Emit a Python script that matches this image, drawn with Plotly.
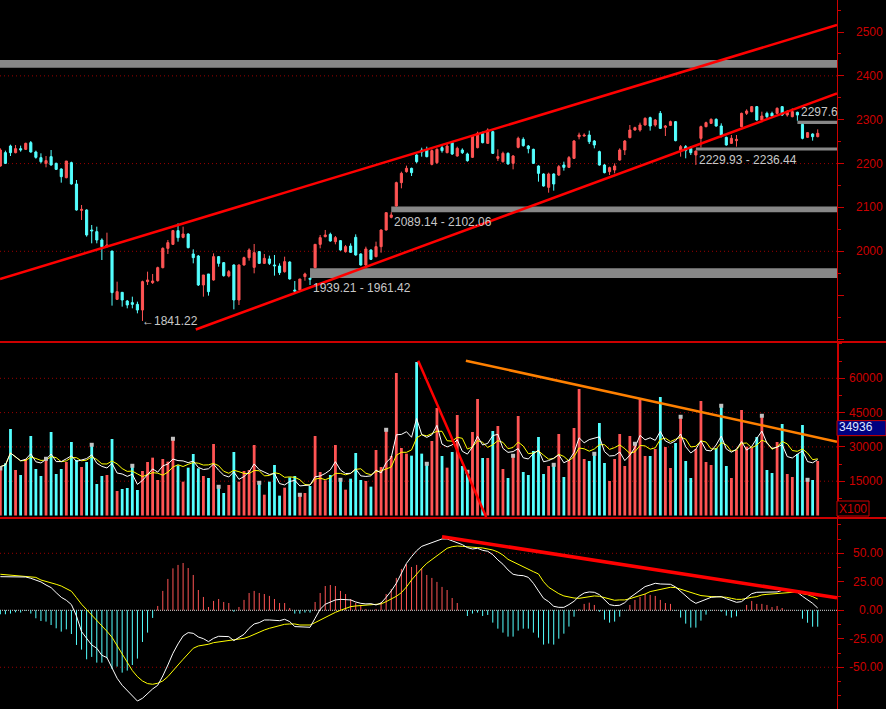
import plotly.graph_objects as go
import pandas as pd

# ---------------- data ----------------
opens = [2194.5, 2224.9, 2240.1, 2224.9, 2234.0, 2232.5, 2247.7, 2226.4, 2213.5, 2200.6,
         2215.8, 2200.6, 2187.7, 2167.9, 2202.1, 2153.5, 2093.4, 2094.2, 2048.6, 2044.8,
         2025.8, 2010.6, 2000.7, 1890.5, 1906.5, 1886.7, 1882.9, 1879.1, 1866.2, 1930.8,
         1928.5, 1933.1, 1962.7, 2006.8, 2015.9, 2047.1, 2031.9, 2039.5, 1993.9, 1989.3,
         1923.2, 1948.3, 1934.6, 1987.8, 1974.1, 1943.7, 1968.8, 1889.0, 1968.8, 1985.5,
         1963.5, 1999.2, 1972.6, 1982.5, 1968.8, 1966.5, 1953.6, 1975.6, 1911.8, 1911.8,
         1942.2, 1938.5, 1962.7, 2015.9, 2033.4, 2038.7, 2022.0, 2024.3, 1999.2, 2012.1,
         2031.9, 1993.9, 1968.8, 2003.0, 1987.8, 2010.6, 2048.6, 2077.5, 2103.3, 2156.5,
         2181.6, 2189.2, 2219.6, 2231.0, 2231.0, 2198.3, 2202.1, 2236.3, 2224.9, 2247.7,
         2217.3, 2231.0, 2221.9, 2214.3, 2236.3, 2269.0, 2246.2, 2272.8, 2212.0, 2204.4,
         2223.4, 2200.6, 2237.1, 2255.3, 2240.1, 2232.5, 2194.5, 2176.3, 2145.9, 2176.3,
         2174.0, 2196.8, 2191.5, 2212.0, 2261.4, 2262.9, 2265.2, 2251.5, 2227.2, 2196.8,
         2181.6, 2185.4, 2208.2, 2231.0, 2259.1, 2276.6, 2276.6, 2288.0, 2304.7, 2288.0,
         2314.6, 2282.7, 2287.2, 2295.6, 2231.0, 2238.6, 2234.8, 2219.6, 2257.6, 2284.2,
         2291.8, 2300.9, 2285.7, 2259.9, 2246.2, 2252.3, 2284.2, 2314.6, 2318.4, 2329.8,
         2299.4, 2314.6, 2314.6, 2314.6, 2329.8, 2310.8, 2307.0, 2316.9, 2289.5, 2259.9,
         2267.5, 2261.4]

highs = [2234.8, 2229.5, 2243.2, 2242.4, 2240.9, 2247.7, 2251.5, 2229.5, 2223.4, 2217.3,
         2231.0, 2202.1, 2189.2, 2205.9, 2204.4, 2162.6, 2105.6, 2095.7, 2060.0, 2056.2,
         2029.6, 2042.5, 2000.7, 1930.8, 1906.5, 1889.0, 1896.6, 1885.2, 1933.1, 1953.6,
         1948.3, 1965.0, 2009.1, 2025.8, 2048.6, 2063.8, 2056.2, 2041.0, 2004.5, 1991.6,
         1946.0, 1948.3, 1995.4, 1989.3, 1975.6, 1957.4, 1970.3, 1970.3, 1987.8, 2006.8,
         2016.7, 2000.7, 1993.9, 1990.1, 1991.6, 1972.6, 1987.8, 1977.2, 1932.3, 1936.9,
         1951.3, 1939.21, 2015.9, 2037.2, 2048.6, 2042.5, 2034.9, 2025.0, 2014.4, 2018.2,
         2038.7, 1995.4, 2010.6, 2004.5, 2022.0, 2050.0, 2088.1, 2089.14, 2158.8, 2181.6,
         2195.3, 2190.7, 2221.1, 2236.3, 2238.6, 2232.5, 2234.8, 2242.4, 2246.2, 2250.8,
         2238.6, 2234.8, 2224.9, 2265.2, 2272.8, 2272.8, 2280.4, 2275.1, 2232.5, 2227.2,
         2225.7, 2219.6, 2261.4, 2259.9, 2242.4, 2234.0, 2196.0, 2177.8, 2179.3, 2177.8,
         2196.8, 2204.4, 2217.3, 2253.8, 2270.5, 2269.0, 2275.1, 2253.8, 2229.5, 2199.1,
         2193.0, 2200.6, 2234.8, 2253.8, 2288.0, 2284.2, 2293.3, 2305.5, 2307.0, 2301.7,
         2319.9, 2288.0, 2297.9, 2297.1, 2242.4, 2242.4, 2240.1, 2229.93, 2286.5, 2295.6,
         2303.2, 2303.2, 2291.8, 2261.4, 2265.2, 2265.2, 2316.1, 2323.7, 2331.3, 2331.3,
         2318.4, 2318.4, 2318.4, 2328.3, 2331.3, 2322.2, 2326.0, 2318.4, 2290.2, 2272.0,
         2269.0, 2278.1]

lows = [2193.0, 2199.0, 2217.3, 2223.4, 2227.2, 2231.0, 2224.9, 2211.2, 2200.6, 2191.5,
        2195.3, 2185.4, 2156.5, 2166.4, 2152.0, 2092.7, 2071.4, 2033.4, 2018.2, 2018.2,
        1980.2, 2009.1, 1876.1, 1889.0, 1873.8, 1870.0, 1870.0, 1858.6, 1841.22, 1923.2,
        1925.5, 1930.8, 1961.2, 1993.9, 2014.4, 2022.0, 2029.6, 2006.8, 1972.6, 1920.9,
        1896.6, 1898.9, 1933.1, 1965.0, 1942.2, 1940.7, 1867.7, 1877.6, 1967.3, 1978.7,
        1949.8, 1971.1, 1971.1, 1968.8, 1944.5, 1946.0, 1951.3, 1935.4, 1907.0, 1910.3,
        1933.0, 1923.2, 1961.42, 2006.8, 2031.9, 2022.0, 2015.9, 2001.5, 1996.9, 1996.9,
        1990.1, 1967.3, 1965.0, 1980.2, 1986.3, 1996.9, 2047.1, 2075.2, 2102.06, 2143.6,
        2179.3, 2171.7, 2200.6, 2215.8, 2214.3, 2196.0, 2199.1, 2224.9, 2223.4, 2219.6,
        2215.8, 2221.9, 2204.4, 2212.8, 2234.8, 2246.2, 2244.7, 2221.9, 2206.0, 2202.1,
        2197.6, 2186.9, 2234.8, 2238.6, 2223.4, 2199.1, 2158.8, 2147.4, 2133.7, 2138.3,
        2171.7, 2183.9, 2190.0, 2210.5, 2255.3, 2261.4, 2244.7, 2234.8, 2195.3, 2177.8,
        2174.0, 2177.8, 2206.7, 2219.6, 2257.6, 2275.1, 2272.8, 2286.5, 2275.1, 2284.2,
        2278.9, 2262.9, 2285.7, 2250.8, 2215.8, 2212.0, 2219.6, 2197.0, 2236.44, 2282.7,
        2290.3, 2284.2, 2259.9, 2240.9, 2244.7, 2238.6, 2282.7, 2310.8, 2316.9, 2297.9,
        2295.6, 2303.2, 2305.5, 2313.1, 2308.5, 2307.0, 2305.5, 2297.68, 2255.3, 2258.4,
        2252.3, 2259.9]

closes = [2231.0, 2200.6, 2224.9, 2234.0, 2231.0, 2246.2, 2226.4, 2214.3, 2204.4, 2206.7,
          2196.8, 2186.9, 2170.2, 2205.9, 2153.5, 2094.2, 2095.7, 2037.2, 2046.3, 2025.8,
          2010.6, 2014.4, 1905.8, 1908.0, 1889.0, 1877.6, 1879.1, 1866.2, 1930.8, 1934.6,
          1932.3, 1962.7, 2006.8, 2019.7, 2047.1, 2031.1, 2039.5, 2008.3, 1985.5, 1923.2,
          1946.0, 1908.0, 1987.8, 1972.6, 1944.5, 1953.6, 1889.0, 1968.8, 1985.5, 2003.0,
          1996.9, 1972.6, 1984.0, 1972.6, 1966.5, 1951.3, 1976.4, 1936.9, 1909.0, 1936.9,
          1948.3, 1936.1, 2015.9, 2031.1, 2037.2, 2023.5, 2031.1, 2003.0, 2010.6, 1997.7,
          1991.6, 1968.8, 2005.3, 1981.7, 2010.6, 2048.6, 2088.1, 2082.8, 2156.5, 2177.8,
          2189.2, 2179.3, 2204.4, 2226.4, 2215.8, 2229.5, 2232.5, 2229.5, 2240.1, 2221.9,
          2234.8, 2224.9, 2206.7, 2262.9, 2269.0, 2247.7, 2276.6, 2223.4, 2215.8, 2223.4,
          2199.1, 2217.3, 2257.6, 2240.9, 2234.0, 2200.6, 2177.8, 2148.9, 2176.3, 2153.5,
          2193.0, 2191.5, 2213.5, 2251.5, 2265.2, 2265.2, 2250.0, 2242.4, 2196.8, 2179.3,
          2190.7, 2194.5, 2231.0, 2251.5, 2276.6, 2281.9, 2288.0, 2303.2, 2285.7, 2299.4,
          2280.4, 2285.7, 2295.6, 2252.3, 2238.6, 2229.5, 2224.9, 2228.5, 2284.2, 2293.3,
          2300.9, 2285.7, 2265.2, 2242.4, 2257.6, 2255.3, 2314.6, 2319.9, 2329.8, 2299.4,
          2308.5, 2307.0, 2308.5, 2326.0, 2310.8, 2318.4, 2318.4, 2310.8, 2257.6, 2270.5,
          2261.4, 2269.0]

volumes = [21360, 22820, 37840, 19900, 17710, 24710, 34770, 20340, 17280, 25590,
           36520, 18150, 20340, 23400, 32150, 24280, 21210, 23400, 31710, 13780,
           17280, 17710, 33460, 10720, 11590, 12030, 22530, 11150, 19460, 23400,
           25300, 15530, 24710, 23550, 34340, 21940, 14800, 20920, 26900, 20630,
           17280, 16400, 31270, 13340, 9840, 13340, 27770, 14800, 19460, 19900,
           30840, 15090, 9110, 14800, 22090, 8680, 12170, 16690, 17280, 9840,
           9840, 12900, 34770, 19030, 15380, 17710, 30840, 16400, 11300, 16110,
           27340, 15530, 15090, 12610, 28650, 21210, 38270, 26030, 62330, 29520,
           27050, 26170, 67140, 27050, 23400, 32590, 47020, 26030, 20920, 27770,
           43960, 21650, 19900, 36520, 50960, 25150, 25150, 36960, 39150, 20340,
           16400, 26900, 43520, 19030, 17710, 28210, 34340, 18150, 21650, 22960,
           35650, 16840, 23840, 38270, 55330, 24710, 23840, 27770, 40460, 22960,
           15090, 24710, 35650, 21650, 34770, 32150, 50960, 26030, 26030, 29090,
           51830, 29960, 20780, 31710, 43960, 23840, 16400, 29090, 50080, 23400,
           22090, 29520, 48770, 21650, 16400, 28650, 46150, 30110, 29520, 34340,
           44400, 19900, 18590, 32150, 40020, 18150, 16840, 26900, 39590, 16400,
           15530, 23840]

day_start_idx = [0, 9, 18, 26, 34, 43, 51, 59, 67, 76, 84, 92, 101, 109, 117, 125,
                 134, 142, 150, 159]

dif = [29.5, 29.5, 29.5, 29.5, 29.5, 29.2, 28.1, 26.6, 24.9, 22.2,
       19.9, 15.5, 11.4, 8.8, 5.0, -5.0, -18.7, -24.6, -30.4, -33.3,
       -39.5, -41.5, -50.0, -59.6, -65.8, -70.2, -74.9, -79.6, -77.2, -72.8,
       -69.0, -65.8, -57.6, -48.0, -37.7, -29.5, -22.5, -19.6, -20.2, -23.4,
       -24.9, -27.5, -24.6, -22.8, -23.1, -23.1, -26.6, -23.7, -21.1, -15.8,
       -12.0, -10.8, -8.5, -8.5, -8.5, -9.1, -7.9, -9.9, -14.3, -14.3,
       -14.3, -14.9, -7.0, 0.9, 5.3, 7.0, 9.1, 9.6, 9.6, 9.1,
       7.3, 6.1, 5.6, 5.8, 4.7, 6.4, 11.4, 17.0, 23.7, 31.9,
       41.2, 47.1, 52.3, 56.1, 57.9, 59.1, 60.8, 62.6, 62.6, 61.1,
       59.4, 57.6, 55.0, 53.8, 54.4, 52.6, 51.8, 48.8, 44.2, 40.4,
       35.4, 31.6, 30.7, 30.4, 28.9, 23.7, 17.0, 10.5, 7.6, 3.5,
       2.6, 2.6, 5.0, 7.9, 12.3, 15.2, 16.1, 15.8, 13.7, 9.4,
       5.0, 4.1, 4.4, 6.7, 11.1, 14.3, 17.3, 20.8, 22.2, 23.7,
       23.1, 23.1, 22.8, 20.5, 16.4, 12.3, 8.8, 6.1, 7.6, 9.6,
       11.4, 12.0, 12.0, 10.2, 8.5, 7.0, 7.6, 11.4, 14.6, 15.8,
       15.8, 15.8, 15.8, 16.1, 17.5, 17.8, 17.0, 15.8, 12.3, 9.1,
       6.1, 2.0]

dea = [31.6, 31.3, 30.7, 30.1, 29.8, 29.5, 29.5, 28.9, 26.6, 25.4,
       24.6, 22.8, 21.3, 18.7, 16.7, 11.1, 5.3, 0.6, -4.1, -8.5,
       -13.2, -18.4, -23.7, -30.7, -38.3, -45.9, -52.9, -58.2, -62.0, -64.3,
       -64.9, -64.0, -62.0, -58.2, -52.6, -48.0, -43.0, -38.3, -33.3, -31.3,
       -30.7, -29.8, -28.4, -27.8, -27.2, -26.6, -26.0, -25.4, -24.6, -23.1,
       -21.1, -19.0, -17.3, -15.8, -14.6, -13.7, -12.3, -12.0, -12.0, -12.9,
       -13.2, -12.9, -10.8, -8.5, -6.1, -3.8, -1.8, 0.0, 1.5, 3.2,
       3.8, 4.1, 4.7, 5.0, 5.3, 5.6, 7.6, 9.9, 12.3, 15.5,
       20.5, 26.6, 31.9, 36.8, 41.2, 44.7, 48.2, 51.5, 54.4, 55.8,
       56.4, 56.1, 55.6, 55.0, 55.0, 54.7, 54.1, 52.9, 51.2, 48.5,
       44.7, 42.4, 40.6, 38.3, 36.0, 33.9, 31.9, 25.1, 20.2, 17.0,
       14.6, 12.6, 11.4, 10.8, 10.5, 11.1, 11.7, 12.6, 12.3, 11.1,
       9.6, 8.8, 9.1, 9.1, 10.2, 11.4, 12.6, 14.3, 16.4, 17.3,
       18.4, 19.3, 20.2, 19.9, 18.4, 16.7, 15.2, 14.3, 12.9, 12.3,
       12.0, 12.0, 12.0, 11.4, 10.5, 9.6, 9.6, 10.8, 11.4, 12.0,
       13.5, 14.0, 14.3, 14.6, 14.9, 15.5, 15.8, 16.1, 14.6, 13.7,
       12.0, 9.9]

macd_hist = [-3.5, -3.5, -2.9, -1.8, -2.0, -0.5, -2.9, -7.0, -9.4, -9.9,
             -12.9, -15.8, -18.7, -16.7, -20.8, -30.4, -34.5, -43.0, -40.9, -45.9,
             -45.9, -42.1, -51.5, -49.4, -54.7, -52.9, -48.0, -42.4, -27.8, -19.6,
             -6.7, 3.8, 17.0, 27.5, 36.8, 39.8, 41.5, 37.1, 31.0, 17.8,
             11.7, 2.9, 8.2, 9.9, 7.3, 6.4, -1.2, 2.9, 9.1, 15.2,
             17.0, 15.2, 14.3, 12.6, 9.9, 6.4, 6.4, 2.0, -2.9, -2.9,
             -2.0, -2.0, 7.3, 15.2, 21.3, 22.2, 21.3, 17.0, 14.3, 9.9,
             6.4, 4.7, 1.2, 0.3, 1.2, 7.3, 14.3, 18.7, 28.4, 36.3,
             40.4, 38.0, 39.8, 37.1, 31.0, 28.4, 24.9, 20.5, 17.8, 10.8,
             6.4, 0.3, -5.0, -2.9, -2.0, -5.0, -4.1, -10.8, -16.1, -19.6,
             -23.1, -23.1, -17.8, -16.1, -16.1, -19.6, -24.0, -30.1, -29.2, -30.1,
             -24.9, -20.5, -14.3, -5.6, 0.9, 5.6, 6.7, 4.7, -1.2, -8.2,
             -10.8, -9.9, -5.6, -0.3, 4.7, 9.1, 11.7, 14.3, 13.5, 12.6,
             9.1, 6.4, 5.6, -0.3, -6.4, -11.7, -15.2, -15.2, -9.1, -3.8,
             -0.3, 0.3, -1.2, -4.7, -6.4, -5.3, -0.3, 4.7, 8.2, 5.6,
             5.6, 4.7, 2.9, 3.8, 2.0, 0.3, 0.2, -0.2, -7.4, -10.9,
             -14.4, -14.4]

# price gaps (bands): start bar, low, high, label
gap_start = [-0.065, 61, 77, 137, 157]
gap_low = [2418.6, 1939.21, 2089.14, 2229.93, 2290.2]
gap_high = [2436.2, 1961.42, 2102.06, 2236.44, 2297.68]
gap_label = ["", "1939.21 - 1961.42", "2089.14 - 2102.06", "2229.93 - 2236.44", "2297.6"]
gap_label_above = [False, False, False, False, True]

low_mark_idx = 28
low_mark_text = "\u21901841.22"

# trend lines (endpoints in bar index / value)
chan_up_x, chan_up_y = [-0.065, 164.8], [1936.8, 2516.0]
chan_lo_x, chan_lo_y = [38.5, 164.8], [1821.7, 2360.0]
vol_red_x, vol_red_y = [82.3, 95.7], [67700, -700]
vol_org_x, vol_org_y = [91.7, 164.8], [67700, 32270]
macd_line_x, macd_line_y = [87, 164.8], [64.6, 11.05]

price_ticks = [2000, 2100, 2200, 2300, 2400, 2500]
price_grid = [2000, 2200, 2400]
vol_ticks = [15000, 30000, 45000, 60000]
vol_tick_text = ["15000", "30000", "45000", "60000"]
macd_ticks = [50, 25, 0, -25, -50]
macd_tick_text = ["50.00", "25.00", "0.00", "-25.00", "-50.00"]
macd_grid = [50, -50]
vol_last_label = 34936
vol_unit_text = "X100"

# ---------------- layout constants ----------------
W, H = 886, 709
AX_X = 837 / W
X_RANGE = [-0.065, 164.8]
PRICE_RANGE = [1795.5, 2573.0]
VOL_RANGE = [-656, 75872]
MACD_RANGE = [-86.6, 80.1]
PRICE_DOM = [1 - 341 / H, 1.0]
VOL_DOM = [1 - 517 / H, 1 - 342 / H]
MACD_DOM = [0.0, 1 - 519 / H]
VOL_PER_PX = (VOL_RANGE[1] - VOL_RANGE[0]) / ((VOL_DOM[1] - VOL_DOM[0]) * H)

RED = "#ff5454"
CYAN = "#54ffff"
AXRED = "#cc0000"
GRIDRED = "#9a0000"
FONT = "Liberation Sans"

n = len(closes)
for name, arr in [("opens", opens), ("highs", highs), ("lows", lows), ("volumes", volumes),
                  ("dif", dif), ("dea", dea), ("macd_hist", macd_hist)]:
    if len(arr) != n:
        raise ValueError(f"{name} has {len(arr)} items, expected {n}")

idx = list(range(n))
is_up = [c >= o for o, c in zip(opens, closes)]
bar_colors = [RED if u else CYAN for u in is_up]

fig = go.Figure()

# ---- candles: wicks ----
for want_up, col in [(True, RED), (False, CYAN)]:
    xs, ys = [], []
    for i in idx:
        if is_up[i] == want_up:
            xs += [i, i, None]
            ys += [lows[i], highs[i], None]
    fig.add_trace(go.Scatter(x=xs, y=ys, mode="lines", line=dict(color=col, width=1),
                             xaxis="x", yaxis="y", hoverinfo="skip"))

# ---- candles: bodies ----
fig.add_trace(go.Bar(x=idx, y=[abs(c - o) for o, c in zip(opens, closes)],
                     base=[min(o, c) for o, c in zip(opens, closes)],
                     width=0.42, marker=dict(color=bar_colors, line=dict(color=bar_colors, width=1)),
                     xaxis="x", yaxis="y", hoverinfo="skip"))

# ---- channel lines ----
for xs, ys in [(chan_up_x, chan_up_y), (chan_lo_x, chan_lo_y)]:
    fig.add_trace(go.Scatter(x=xs, y=ys, mode="lines", line=dict(color="#ff0000", width=2.5),
                             xaxis="x", yaxis="y", hoverinfo="skip"))

# ---- volume ----
fig.add_trace(go.Bar(x=idx, y=volumes, width=0.55, marker=dict(color=bar_colors, line=dict(width=0)),
                     xaxis="x2", yaxis="y2", hoverinfo="skip"))
vs = pd.Series(volumes, dtype=float)
ma5 = vs.rolling(5, min_periods=1).mean().tolist()
ma10 = vs.rolling(10, min_periods=1).mean().tolist()
fig.add_trace(go.Scatter(x=idx, y=ma10, mode="lines", line=dict(color="#ffff00", width=1),
                         xaxis="x2", yaxis="y2", hoverinfo="skip"))
fig.add_trace(go.Scatter(x=idx, y=ma5, mode="lines", line=dict(color="#ffffff", width=1),
                         xaxis="x2", yaxis="y2", hoverinfo="skip"))
fig.add_trace(go.Scatter(x=day_start_idx, y=[volumes[i] - 1.8 * VOL_PER_PX for i in day_start_idx],
                         mode="markers", marker=dict(symbol="square", size=4, color="#c0c0c0",
                                                     line=dict(width=0)),
                         xaxis="x2", yaxis="y2", hoverinfo="skip"))
fig.add_trace(go.Scatter(x=vol_red_x, y=vol_red_y, mode="lines", line=dict(color="#ff0000", width=2.5),
                         xaxis="x2", yaxis="y2", hoverinfo="skip"))
fig.add_trace(go.Scatter(x=vol_org_x, y=vol_org_y, mode="lines", line=dict(color="#ff8000", width=2.5),
                         xaxis="x2", yaxis="y2", hoverinfo="skip"))

# ---- MACD ----
for positive, col in [(True, RED), (False, CYAN)]:
    xs, ys = [], []
    for i in idx:
        v = macd_hist[i]
        if (v >= 0) == positive:
            xs += [i, i, None]
            ys += [0, v, None]
    fig.add_trace(go.Scatter(x=xs, y=ys, mode="lines", line=dict(color=col, width=1),
                             xaxis="x3", yaxis="y3", hoverinfo="skip"))
fig.add_trace(go.Scatter(x=idx, y=dea, mode="lines", line=dict(color="#ffff00", width=1),
                         xaxis="x3", yaxis="y3", hoverinfo="skip"))
fig.add_trace(go.Scatter(x=idx, y=dif, mode="lines", line=dict(color="#ffffff", width=1),
                         xaxis="x3", yaxis="y3", hoverinfo="skip"))
fig.add_trace(go.Scatter(x=macd_line_x, y=macd_line_y, mode="lines", line=dict(color="#ff0000", width=3.5),
                         xaxis="x3", yaxis="y3", hoverinfo="skip"))

# ---------------- shapes ----------------
shapes = []
def hline(yref, val, color, dash):
    shapes.append(dict(type="line", xref="paper", x0=0, x1=AX_X, yref=yref, y0=val, y1=val,
                       line=dict(color=color, width=1, dash=dash), layer="below"))

for g in price_grid:
    hline("y", g, GRIDRED, "1px,3px")
for g in vol_ticks:
    hline("y2", g, GRIDRED, "1px,3px")
for g in macd_grid:
    hline("y3", g, GRIDRED, "1px,3px")
hline("y3", 0, "#d8d8d8", "1px,1px")

for x0, lo, hi in zip(gap_start, gap_low, gap_high):
    shapes.append(dict(type="rect", xref="x", yref="y", x0=x0, x1=X_RANGE[1], y0=lo, y1=hi,
                       fillcolor="#878787", line=dict(width=0), layer="below"))

# panel separators
for ypx, lw in [(342, 2), (518, 2)]:
    shapes.append(dict(type="line", xref="paper", yref="paper", x0=0, x1=1,
                       y0=1 - ypx / H, y1=1 - ypx / H, line=dict(color=AXRED, width=lw)))
# last volume box
shapes.append(dict(type="rect", xref="paper", yref="y2", x0=AX_X, x1=1.0,
                   y0=vol_last_label, y1=vol_last_label + 15 * VOL_PER_PX,
                   fillcolor="#000080", line=dict(color=AXRED, width=1)))
# unit box
shapes.append(dict(type="rect", xref="paper", yref="paper", x0=AX_X, x1=869 / W,
                   y0=1 - 516 / H, y1=1 - 501 / H, fillcolor="#000000",
                   line=dict(color=AXRED, width=1)))

# ---------------- annotations ----------------
ann = []
lab_font = dict(family=FONT, size=12, color=AXRED)
for t in price_ticks:
    ann.append(dict(xref="paper", yref="y", x=1, y=t, text=str(t), showarrow=False,
                    xanchor="right", yanchor="middle", font=lab_font, xshift=-1))
for t, s in zip(vol_ticks, vol_tick_text):
    ann.append(dict(xref="paper", yref="y2", x=1, y=t, text=s, showarrow=False,
                    xanchor="right", yanchor="middle", font=lab_font, xshift=-1))
for t, s in zip(macd_ticks, macd_tick_text):
    ann.append(dict(xref="paper", yref="y3", x=1, y=t, text=s, showarrow=False,
                    xanchor="right", yanchor="middle", font=lab_font, xshift=-1))

txt_font = dict(family=FONT, size=12, color="#c8c8c8")
for x0, lo, hi, lab, above in zip(gap_start, gap_low, gap_high, gap_label, gap_label_above):
    if not lab:
        continue
    if above:
        ann.append(dict(xref="x", yref="y", x=x0, y=hi, text=lab, showarrow=False,
                        xanchor="left", yanchor="bottom", font=txt_font, xshift=2, yshift=0))
    else:
        ann.append(dict(xref="x", yref="y", x=x0, y=lo, text=lab, showarrow=False,
                        xanchor="left", yanchor="top", font=txt_font, xshift=1, yshift=-1))
ann.append(dict(xref="x", yref="y", x=low_mark_idx, y=lows[low_mark_idx], text=low_mark_text,
                showarrow=False, xanchor="left", yanchor="middle", font=txt_font, xshift=-2))
ann.append(dict(xref="paper", yref="y2", x=AX_X, y=vol_last_label, text=str(vol_last_label),
                showarrow=False, xanchor="left", yanchor="bottom", xshift=0,
                font=dict(family=FONT, size=12, color="#dde6ff")))
ann.append(dict(xref="paper", yref="paper", x=(837 + 869) / 2 / W, y=1 - 508.5 / H,
                text=vol_unit_text, showarrow=False, xanchor="center", yanchor="middle",
                font=lab_font))

# ---------------- axes ----------------
def xax(anchor):
    return dict(domain=[0, AX_X], range=X_RANGE, visible=False, anchor=anchor, fixedrange=True)

def yax(dom, rng, anchor, lw=1, tickvals=None, dtick=None, tick0=None, minor_dtick=None):
    d = dict(domain=dom, range=rng, side="right", anchor=anchor, showline=True,
             linecolor=AXRED, linewidth=lw, ticks="outside", ticklen=6, tickcolor=AXRED,
             tickwidth=1, showticklabels=False, showgrid=False, zeroline=False,
             minor=dict(ticks="outside", ticklen=3, tickcolor=AXRED, tickmode="linear",
                        tick0=0, dtick=minor_dtick, showgrid=False))
    if tickvals is not None:
        d.update(tickmode="array", tickvals=tickvals)
    else:
        d.update(tickmode="linear", tick0=tick0, dtick=dtick)
    return d

fig.update_layout(
    width=W, height=H, autosize=False, margin=dict(l=0, r=0, t=0, b=0, pad=0),
    paper_bgcolor="#000000", plot_bgcolor="#000000", showlegend=False,
    barmode="overlay", hovermode=False,
    xaxis=xax("y"), xaxis2=xax("y2"), xaxis3=xax("y3"),
    yaxis=yax(PRICE_DOM, PRICE_RANGE, "x", tick0=2000, dtick=100, minor_dtick=50),
    yaxis2=yax(VOL_DOM, VOL_RANGE, "x2", lw=2, tickvals=vol_ticks, minor_dtick=7500),
    yaxis3=yax(MACD_DOM, MACD_RANGE, "x3", tickvals=macd_ticks, minor_dtick=12.5),
    shapes=shapes, annotations=ann,
)

fig.write_html("out.html", config={"displayModeBar": False})
